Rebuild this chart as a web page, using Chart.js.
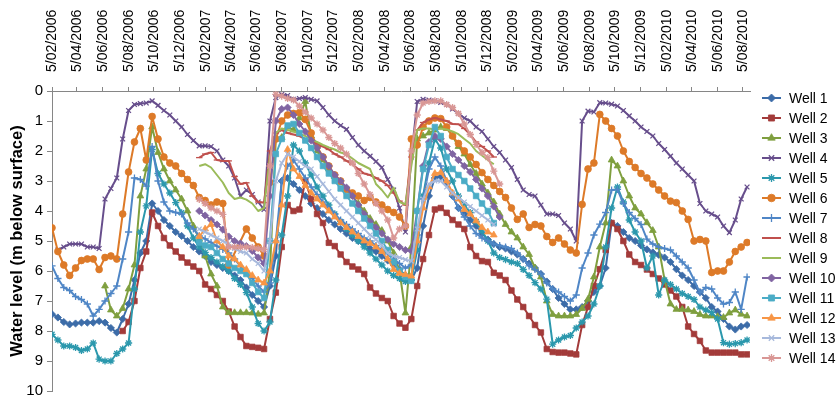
<!DOCTYPE html>
<html>
<head>
<meta charset="utf-8">
<script src="https://cdn.jsdelivr.net/npm/chart.js@4.4.1/dist/chart.umd.min.js"></script>
<style>
  html, body { margin: 0; padding: 0; background: #ffffff; }
  #wrap { width: 840px; height: 397px; }
</style>
</head>
<body>
<div id="wrap"><canvas id="c" width="840" height="397"></canvas></div>
<script>
const _ = null;

// Sampling dates (fortnightly rounds)
const sampleDates = [
  '2006-02-05','2006-02-19','2006-03-05','2006-03-19','2006-04-02','2006-04-16','2006-04-30','2006-05-14','2006-05-28','2006-06-11',
  '2006-06-25','2006-07-09','2006-07-23','2006-08-06','2006-08-20','2006-09-03','2006-09-17','2006-10-01','2006-10-15','2006-10-29',
  '2006-11-12','2006-11-26','2006-12-10','2006-12-24','2007-01-07','2007-01-21','2007-02-04','2007-02-18','2007-03-04','2007-03-18',
  '2007-04-01','2007-04-15','2007-04-29','2007-05-13','2007-05-27','2007-06-10','2007-06-24','2007-07-08','2007-07-22','2007-08-05',
  '2007-08-19','2007-09-02','2007-09-16','2007-09-30','2007-10-14','2007-10-28','2007-11-11','2007-11-25','2007-12-09','2007-12-23',
  '2008-01-06','2008-01-20','2008-02-03','2008-02-17','2008-03-02','2008-03-16','2008-03-30','2008-04-13','2008-04-27','2008-05-11',
  '2008-05-25','2008-06-08','2008-06-22','2008-07-06','2008-07-20','2008-08-03','2008-08-17','2008-08-31','2008-09-14','2008-09-28',
  '2008-10-12','2008-10-26','2008-11-09','2008-11-23','2008-12-07','2008-12-21','2009-01-04','2009-01-18','2009-02-01','2009-02-15',
  '2009-03-01','2009-03-15','2009-03-29','2009-04-12','2009-04-26','2009-05-10','2009-05-24','2009-06-07','2009-06-21','2009-07-05',
  '2009-07-19','2009-08-02','2009-08-16','2009-08-30','2009-09-13','2009-09-27','2009-10-11','2009-10-25','2009-11-08','2009-11-22',
  '2009-12-06','2009-12-20','2010-01-03','2010-01-17','2010-01-31','2010-02-14','2010-02-28','2010-03-14','2010-03-28','2010-04-11',
  '2010-04-25','2010-05-09','2010-05-23','2010-06-06','2010-06-20','2010-07-04','2010-07-18','2010-08-01','2010-08-15'
];

// Date axis labels (d/mm/yyyy)
const tickLabels = [
  '5/02/2006','5/04/2006','5/06/2006','5/08/2006','5/10/2006','5/12/2006',
  '5/02/2007','5/04/2007','5/06/2007','5/08/2007','5/10/2007','5/12/2007',
  '5/02/2008','5/04/2008','5/06/2008','5/08/2008','5/10/2008','5/12/2008',
  '5/02/2009','5/04/2009','5/06/2009','5/08/2009','5/10/2009','5/12/2009',
  '5/02/2010','5/04/2010','5/06/2010','5/08/2010'
];
const axisStart = '2006-02-05';
const axisEnd = '2010-08-22';

const yTicks = [0, 1, 2, 3, 4, 5, 6, 7, 8, 9, 10];

const wellNames = ['Well 1','Well 2','Well 3','Well 4','Well 5','Well 6','Well 7',
                   'Well 8','Well 9','Well 10','Well 11','Well 12','Well 13','Well 14'];

// Water level, m below surface
const well1 = [
  7.44,7.55,7.7,7.78,7.75,7.72,7.72,7.72,7.67,7.72,
  7.9,8.05,7.6,7.1,6.3,5.4,5.0,3.75,4.0,4.3,
  4.5,4.7,4.83,5.0,5.2,5.35,5.5,5.7,5.8,5.9,
  6.0,6.15,6.3,6.55,6.8,7.0,7.2,6.5,5.5,3.0,
  2.9,3.1,3.3,3.5,3.75,3.9,4.1,4.3,4.45,4.6,
  4.75,4.9,5.0,5.1,5.25,5.35,5.5,5.65,5.8,5.95,
  6.15,6.3,5.9,4.5,3.5,2.9,2.85,3.1,3.5,3.9,
  4.1,4.3,4.5,4.75,4.95,5.1,5.2,5.25,5.35,5.45,
  5.6,5.75,5.9,6.1,6.35,6.6,6.9,7.1,7.28,7.28,
  7.2,7.0,6.7,6.5,5.9,4.4,4.5,4.7,4.9,5.0,
  5.15,5.28,5.38,5.46,5.55,5.7,5.94,6.15,6.3,6.5,
  6.7,6.9,7.2,7.35,7.6,7.85,7.95,7.85,7.8
];
const well2 = [
  _,_,_,_,_,_,_,_,_,_,
  _,_,8.0,7.7,7.0,5.9,5.35,4.05,4.5,4.9,
  5.15,5.35,5.55,5.72,5.85,6.0,6.45,6.6,6.8,7.0,
  7.35,7.85,8.2,8.5,8.53,8.56,8.6,7.6,6.72,5.2,
  3.8,4.0,3.95,3.0,3.6,4.1,4.4,5.06,5.17,5.45,
  5.7,5.85,5.95,6.1,6.55,6.75,6.9,7.0,7.5,7.75,
  7.89,7.6,6.5,5.6,4.8,3.95,3.9,4.06,4.3,4.45,
  4.6,5.2,5.5,5.67,5.7,6.06,6.15,6.3,6.65,6.95,
  7.2,7.5,7.8,8.05,8.6,8.7,8.72,8.72,8.75,8.78,
  7.8,7.2,6.5,5.94,5.3,4.4,4.6,5.0,5.45,5.7,
  5.8,5.95,6.1,6.25,6.45,6.65,6.85,7.2,7.85,8.1,
  8.33,8.65,8.72,8.72,8.72,8.72,8.72,8.78,8.78
];
const well3 = [
  _,_,_,_,_,_,_,_,_,6.5,
  7.3,7.5,7.25,6.6,5.8,3.5,2.6,1.2,2.05,2.6,
  3.0,3.3,3.6,4.0,4.5,4.94,5.5,6.1,6.5,7.2,
  7.39,7.39,7.39,7.39,7.4,7.44,7.4,6.0,1.6,1.55,
  1.2,1.3,0.9,0.35,1.5,2.0,2.3,2.6,2.85,3.05,
  3.3,3.5,3.75,4.0,4.25,4.45,4.65,5.0,5.4,6.0,
  7.4,5.2,1.6,1.5,1.4,1.3,1.2,1.25,1.5,1.85,
  2.1,2.45,2.75,3.1,3.4,3.7,4.1,4.45,4.7,4.9,
  5.2,5.45,5.9,6.2,7.0,7.45,7.5,7.5,7.5,7.45,
  7.25,6.94,6.2,5.2,4.4,2.3,2.5,3.0,3.5,3.9,
  4.1,4.39,4.65,5.2,6.3,7.1,7.28,7.28,7.3,7.35,
  7.45,7.5,7.5,7.52,7.55,7.4,7.3,7.44,7.5
];
const well4 = [
  _,5.3,5.2,5.1,5.1,5.1,5.2,5.2,5.25,3.6,
  3.25,2.9,1.6,0.65,0.45,0.42,0.4,0.33,0.48,0.65,
  0.8,1.0,1.2,1.45,1.65,1.83,1.83,1.85,2.0,2.3,
  2.5,2.9,3.5,3.3,3.45,3.7,3.95,1.0,0.22,0.12,
  0.15,0.28,0.25,0.22,0.28,0.33,0.55,0.8,1.0,1.15,
  1.28,1.55,1.8,2.0,2.17,2.35,2.55,2.95,3.3,3.9,
  4.7,2.2,0.35,0.28,0.3,0.33,0.38,0.45,0.6,0.75,
  0.9,1.0,1.2,1.35,1.6,1.85,2.05,2.3,2.55,2.95,
  3.3,3.45,3.5,3.8,4.1,4.1,4.15,4.4,4.6,5.0,
  1.0,0.67,0.7,0.39,0.4,0.44,0.5,0.65,0.83,1.0,
  1.2,1.35,1.5,1.75,1.95,2.17,2.4,2.6,2.8,3.0,
  3.75,4.0,4.1,4.2,4.5,4.72,4.3,3.6,3.2
];
const well5 = [
  8.11,8.3,8.5,8.5,8.55,8.65,8.6,8.4,8.94,9.0,
  9.0,8.75,8.6,8.4,6.6,4.7,3.83,1.95,2.75,3.1,
  3.4,3.72,4.06,4.5,4.9,5.2,5.38,5.55,5.7,5.85,
  6.0,6.25,6.45,6.72,7.2,7.75,8.0,7.7,6.3,4.8,
  3.5,1.8,2.0,2.4,2.8,3.2,3.5,3.8,4.1,4.35,
  4.6,4.8,5.0,5.2,5.4,5.6,5.8,6.0,6.15,6.25,
  6.35,6.3,5.3,3.5,2.4,1.6,1.9,2.6,3.0,3.5,
  3.8,4.05,4.35,4.67,5.0,5.4,5.55,5.62,5.7,5.75,
  5.95,6.15,6.39,6.6,6.94,8.44,8.3,8.2,8.15,7.9,
  7.7,7.5,7.1,6.5,5.2,3.9,3.2,3.7,4.3,4.7,
  5.0,5.9,5.5,6.8,6.3,6.45,6.6,6.75,6.85,6.95,
  7.2,7.3,7.39,7.6,8.39,8.44,8.42,8.39,8.3
];
const well6 = [
  4.56,5.35,5.8,6.15,5.9,5.65,5.6,5.6,5.95,5.55,
  5.5,5.6,4.1,2.7,1.7,1.25,2.3,0.85,1.6,2.2,
  2.4,2.5,2.75,2.95,3.15,3.55,3.65,3.8,3.7,3.75,
  5.8,_,_,4.6,4.9,5.2,5.5,3.05,1.6,1.0,
  0.8,0.75,0.72,0.95,1.4,1.85,2.2,2.5,2.8,3.0,
  3.28,3.4,3.5,3.65,3.55,3.7,3.8,3.95,4.05,4.2,
  4.5,1.6,1.8,1.2,1.0,0.9,0.92,1.2,1.5,1.75,
  2.0,2.2,2.45,2.72,2.95,3.15,3.35,3.55,3.9,4.28,
  4.1,4.55,4.45,4.5,4.85,5.05,4.9,5.1,5.3,5.4,
  3.78,2.6,2.4,0.78,1.0,1.25,1.5,2.0,2.35,2.55,
  2.75,2.9,3.1,3.3,3.5,3.67,3.72,4.0,4.28,5.0,
  4.95,5.0,6.05,6.0,6.0,5.7,5.35,5.2,5.05
];
const well7 = [
  5.83,6.25,6.55,6.65,6.85,6.95,7.1,7.5,7.28,7.0,
  6.75,6.5,5.6,4.7,2.9,2.95,3.17,1.85,3.0,3.7,
  4.0,4.05,4.1,4.4,4.6,4.83,4.93,5.05,5.17,5.28,
  5.4,5.6,5.85,6.05,6.25,6.5,6.7,6.4,5.0,3.0,
  2.5,2.3,2.6,2.9,3.2,3.45,3.7,3.9,4.1,4.3,
  4.45,4.6,4.75,4.9,5.0,5.15,5.3,5.45,5.6,5.75,
  5.9,5.8,4.8,3.6,2.6,2.2,2.5,3.0,3.5,3.9,
  4.2,4.5,4.75,4.9,5.0,5.1,5.15,5.2,5.25,5.4,
  5.6,5.83,5.95,6.1,6.4,6.6,6.7,6.85,7.0,6.8,
  5.9,5.4,4.8,4.44,4.05,3.3,3.28,3.75,4.05,4.25,
  4.45,4.94,5.1,5.2,5.25,5.3,5.5,5.7,5.9,6.3,
  6.72,6.55,6.6,6.9,7.1,7.05,6.7,7.28,6.2
];
const well8 = [
  _,_,_,_,_,_,_,_,_,_,
  _,_,_,_,_,_,_,_,_,_,
  _,_,_,_,_,2.22,2.1,2.05,2.3,2.33,
  2.33,2.85,3.1,3.06,3.5,3.7,3.72,2.0,1.4,1.3,
  1.4,1.45,1.5,1.6,1.68,1.75,1.85,1.95,2.1,2.2,
  2.33,2.45,2.6,2.75,2.8,2.9,3.0,3.15,3.4,3.67,
  3.8,2.2,1.3,1.05,0.95,0.9,0.95,1.0,1.1,1.11,
  1.25,1.45,1.7,1.85,2.0,2.2,_,_,_,_,
  _,_,_,_,_,_,_,_,_,_,
  _,_,_,_,_,_,_,_,_,_,
  _,_,_,_,_,_,_,_,_,_,
  _,_,_,_,_,_,_,_,_
];
const well9 = [
  _,_,_,_,_,_,_,_,_,_,
  _,_,_,_,_,_,_,_,_,_,
  _,_,_,_,_,2.5,2.44,2.55,2.8,3.05,
  3.4,3.6,3.55,3.62,3.75,4.0,3.9,2.2,1.4,1.25,
  1.3,1.35,1.42,1.5,1.62,1.7,1.8,1.88,1.95,2.05,
  2.11,2.25,2.4,2.5,2.6,3.1,3.3,3.55,3.22,3.7,
  3.78,2.5,1.3,1.25,1.25,1.28,1.25,1.28,1.35,1.44,
  1.6,1.75,2.0,2.15,2.3,2.44,_,_,_,_,
  _,_,_,_,_,_,_,_,_,_,
  _,_,_,_,_,_,_,_,_,_,
  _,_,_,_,_,_,_,_,_,_,
  _,_,_,_,_,_,_,_,_
];
const well10 = [
  _,_,_,_,_,_,_,_,_,_,
  _,_,_,_,_,_,_,_,_,_,
  _,_,_,_,_,4.0,4.15,4.3,4.45,4.62,
  4.85,5.0,5.08,5.17,5.33,5.55,5.75,3.5,1.0,0.6,
  0.55,0.8,1.1,1.35,1.65,1.9,2.2,2.5,2.8,3.0,
  3.22,3.5,3.8,4.1,4.35,4.55,4.75,4.95,5.1,5.2,
  5.3,5.33,4.0,2.5,1.7,1.5,1.6,1.85,2.1,2.3,
  2.5,2.7,2.95,3.25,3.5,3.85,4.2,_,_,_,
  _,_,_,_,_,_,_,_,_,_,
  _,_,_,_,_,_,_,_,_,_,
  _,_,_,_,_,_,_,_,_,_,
  _,_,_,_,_,_,_,_,_
];
const well11 = [
  _,_,_,_,_,_,_,_,_,_,
  _,_,_,_,_,_,_,_,_,_,
  _,_,_,_,_,5.05,5.15,5.2,5.4,5.6,
  5.75,5.9,6.0,6.1,6.4,6.7,6.9,5.0,2.1,1.6,
  1.15,1.1,1.4,1.65,1.9,2.2,2.5,2.75,3.0,3.25,
  3.5,3.75,4.0,4.25,4.5,4.75,5.0,5.3,5.7,6.0,
  6.2,6.33,4.0,2.6,1.8,1.2,1.5,2.2,2.6,2.8,
  3.0,3.25,3.5,3.75,4.0,4.4,_,_,_,_,
  _,_,_,_,_,_,_,_,_,_,
  _,_,_,_,_,_,_,_,_,_,
  _,_,_,_,_,_,_,_,_,_,
  _,_,_,_,_,_,_,_,_
];
const well12 = [
  _,_,_,_,_,_,_,_,_,_,
  _,_,_,_,_,_,_,_,_,_,
  _,_,_,_,_,4.85,4.6,4.45,5.0,5.2,
  5.5,5.6,5.8,5.95,6.15,6.3,6.4,6.0,5.0,3.8,
  1.95,2.6,2.85,3.15,3.4,3.6,3.8,4.0,4.2,4.4,
  4.55,4.7,4.85,5.0,5.08,5.2,5.35,5.6,5.95,6.08,
  6.12,6.17,5.0,3.9,3.2,2.75,2.72,3.0,3.4,3.6,
  3.95,4.1,4.33,4.55,4.7,4.8,_,_,_,_,
  _,_,_,_,_,_,_,_,_,_,
  _,_,_,_,_,_,_,_,_,_,
  _,_,_,_,_,_,_,_,_,_,
  _,_,_,_,_,_,_,_,_
];
const well13 = [
  _,_,_,_,_,_,_,_,_,_,
  _,_,_,_,_,_,_,_,_,_,
  _,_,_,_,_,4.6,4.7,4.8,4.9,5.0,
  5.1,5.25,5.35,5.4,5.6,5.75,6.0,5.0,3.0,2.4,
  2.1,2.2,2.35,2.5,2.6,2.85,3.1,3.35,3.6,3.8,
  4.0,4.2,4.4,4.6,4.8,4.95,5.15,5.4,5.5,5.55,
  5.62,5.67,4.6,3.6,3.1,3.0,3.0,3.2,3.4,3.55,
  3.7,3.85,4.0,4.15,4.3,4.45,_,_,_,_,
  _,_,_,_,_,_,_,_,_,_,
  _,_,_,_,_,_,_,_,_,_,
  _,_,_,_,_,_,_,_,_,_,
  _,_,_,_,_,_,_,_,_
];
const well14 = [
  _,_,_,_,_,_,_,_,_,_,
  _,_,_,_,_,_,_,_,_,_,
  _,_,_,_,_,3.61,3.75,3.9,4.0,4.11,
  5.2,5.2,5.2,5.2,5.22,5.25,5.28,2.5,0.11,0.17,
  0.25,0.3,0.5,0.7,0.9,1.1,1.3,1.55,1.75,1.9,
  2.1,2.4,2.75,3.1,3.45,3.75,4.0,4.3,4.9,4.6,
  4.5,2.0,0.8,0.4,0.35,0.33,0.33,0.45,0.55,0.75,
  1.1,1.45,1.78,2.05,2.22,2.67,3.1,_,_,_,
  _,_,_,_,_,_,_,_,_,_,
  _,_,_,_,_,_,_,_,_,_,
  _,_,_,_,_,_,_,_,_,_,
  _,_,_,_,_,_,_,_,_
];

const wellSeries = [well1, well2, well3, well4, well5, well6, well7,
                    well8, well9, well10, well11, well12, well13, well14];

// ---- styling ----
const wellColors = ['#3c6ca8','#a33b3a','#7f9f3f','#674e8c','#2b98ad','#dd7a28','#4f86c6',
                    '#c0504d','#9bbb59','#8064a2','#4bacc6','#f79646','#a7b9dc','#d99795'];
const wellMarkers = ['rectRot','rect','triangle','crossRot','star','circle','cross',
                     'line',false,'rectRot','rect','triangle','crossRot','star'];
const markerSize = { rectRot: 3.6, rect: 3.9, triangle: 3.9, crossRot: 3.4, star: 3.6,
                     circle: 3.4, cross: 3.6, line: 3.2 };
const FONT = '"Liberation Sans", Arial, sans-serif';

const DAY = 86400000;
const origin = Date.parse(axisStart + 'T00:00:00Z');
function isoDay(s) { return (Date.parse(s + 'T00:00:00Z') - origin) / DAY; }
function dmyDay(s) {
  const [d, m, y] = s.split('/').map(Number);
  return (Date.UTC(y, m - 1, d) - origin) / DAY;
}
const sampleDays = sampleDates.map(isoDay);
const tickDays = tickLabels.map(dmyDay);

const datasets = wellSeries.map((vals, k) => {
  const mk = wellMarkers[k];
  const stroked = mk === 'cross' || mk === 'crossRot' || mk === 'star' || mk === 'line';
  return {
    label: wellNames[k],
    data: vals.map((v, i) => ({ x: sampleDays[i], y: v })),
    borderColor: wellColors[k],
    backgroundColor: wellColors[k],
    pointBackgroundColor: wellColors[k],
    pointBorderColor: wellColors[k],
    borderWidth: 2,
    borderJoinStyle: 'round',
    pointStyle: mk || 'circle',
    pointRadius: mk ? markerSize[mk] : 0,
    pointBorderWidth: stroked ? 1.3 : 0.8,
    pointHoverRadius: 0,
    spanGaps: true,
    tension: 0,
    order: wellSeries.length - k
  };
});

// Vertical date labels above the top axis, reading bottom to top
const dateLabels = {
  id: 'dateLabels',
  afterDraw(chart) {
    const ctx = chart.ctx;
    const xs = chart.scales.x;
    const base = xs.bottom - 19;
    ctx.save();
    ctx.fillStyle = '#000000';
    ctx.font = '14px ' + FONT;
    ctx.textAlign = 'left';
    ctx.textBaseline = 'middle';
    tickLabels.forEach((lab, i) => {
      const px = xs.getPixelForValue(tickDays[i]);
      ctx.save();
      ctx.translate(px + 0.5, base);
      ctx.rotate(-Math.PI / 2);
      ctx.fillText(lab, 0, 0);
      ctx.restore();
    });
    ctx.restore();
  }
};

// Legend drawn as line segment + marker
const wellLegend = {
  id: 'wellLegend',
  afterDraw(chart) {
    const ctx = chart.ctx;
    const drawPoint = Chart.helpers && Chart.helpers.drawPoint;
    chart.data.datasets.forEach((ds, k) => {
      const y = 98 + k * 20;
      ctx.save();
      ctx.strokeStyle = ds.borderColor;
      ctx.lineWidth = 2;
      ctx.beginPath();
      ctx.moveTo(762, y);
      ctx.lineTo(781, y);
      ctx.stroke();
      if (ds.pointRadius > 0 && drawPoint) {
        ctx.fillStyle = ds.pointBackgroundColor;
        ctx.strokeStyle = ds.pointBorderColor;
        ctx.lineWidth = ds.pointBorderWidth;
        drawPoint(ctx, { pointStyle: ds.pointStyle, radius: ds.pointRadius + 0.4,
                         rotation: 0, borderWidth: ds.pointBorderWidth }, 771.5, y);
      }
      ctx.fillStyle = '#000000';
      ctx.font = '14px ' + FONT;
      ctx.textBaseline = 'middle';
      ctx.textAlign = 'left';
      ctx.fillText(ds.label, 789, y + 1);
      ctx.restore();
    });
  }
};

new Chart(document.getElementById('c'), {
  type: 'line',
  data: { datasets },
  options: {
    responsive: false,
    animation: false,
    devicePixelRatio: 1,
    layout: { padding: { left: 0, right: 90, top: 0, bottom: 6 } },
    plugins: { legend: { display: false }, tooltip: { enabled: false } },
    scales: {
      x: {
        type: 'linear',
        position: 'top',
        min: isoDay(axisStart),
        max: isoDay(axisEnd),
        afterBuildTicks: (s) => { s.ticks = tickDays.map(v => ({ value: v })); },
        afterFit: (s) => { s.height = 91; s.paddingLeft = 0; s.paddingRight = 0; },
        ticks: { display: false, autoSkip: false },
        grid: { drawOnChartArea: false, drawTicks: true, tickLength: 4, color: '#868686' },
        border: { display: true, color: '#868686', width: 1 }
      },
      y: {
        type: 'linear',
        position: 'left',
        reverse: true,
        min: yTicks[0],
        max: yTicks[yTicks.length - 1],
        afterBuildTicks: (s) => { s.ticks = yTicks.map(v => ({ value: v })); },
        afterFit: (s) => { s.width = 52; s.paddingTop = 0; s.paddingBottom = 0; },
        ticks: {
          padding: 4,
          color: '#000000',
          font: { family: FONT, size: 15 }
        },
        grid: { drawOnChartArea: false, drawTicks: true, tickLength: 5, color: '#868686' },
        border: { display: true, color: '#868686', width: 1 },
        title: {
          display: true,
          text: 'Water level (m below surface)',
          color: '#000000',
          font: { family: FONT, size: 16.5, weight: 'bold' },
          padding: { top: 8, bottom: 0 }
        }
      }
    }
  },
  plugins: [dateLabels, wellLegend]
});
</script>
</body>
</html>
